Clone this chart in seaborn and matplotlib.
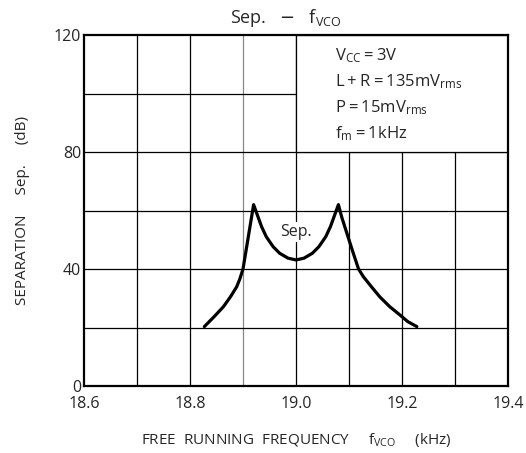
import matplotlib
matplotlib.use('Agg')
import matplotlib.pyplot as plt
import seaborn as sns
import pandas as pd
from matplotlib.patches import Rectangle

# data
freq_khz = [18.827, 18.845, 18.863, 18.876, 18.888, 18.894, 18.900, 18.905, 18.910,
            18.915, 18.920, 18.926, 18.935, 18.944, 18.957, 18.969, 18.985, 19.000,
            19.015, 19.031, 19.043, 19.056, 19.065, 19.074, 19.080, 19.086, 19.096,
            19.107, 19.118, 19.127, 19.142, 19.158, 19.177, 19.196, 19.211, 19.228]
sep_db = [20.3, 23.6, 27.1, 30.4, 33.9, 36.6, 40.0, 45.5, 51.0,
          56.5, 62.0, 59.0, 54.5, 51.0, 47.6, 45.4, 43.7, 43.1,
          43.7, 45.4, 47.6, 51.0, 54.5, 59.0, 62.0, 57.9, 52.2,
          46.0, 40.0, 37.4, 34.0, 30.5, 27.1, 24.3, 22.0, 20.3]
x_ticks = [18.6, 18.8, 19.0, 19.2, 19.4]
y_ticks = [0, 40, 80, 120]
conditions = [r'$\mathregular{V_{CC} = 3V}$',
              r'$\mathregular{L + R = 135mV_{rms}}$',
              r'$\mathregular{P = 15mV_{rms}}$',
              r'$\mathregular{f_{m} = 1kHz}$']

df = pd.DataFrame({'freq': freq_khz, 'sep': sep_db})

sns.set_style('white')
plt.rcParams['font.family'] = ['Open Sans', 'DejaVu Sans']

fig = plt.figure(figsize=(5.26, 4.53), dpi=100)
ax = fig.add_axes([0.1597, 0.1479, 0.8061, 0.7748])

# grid
for gx in [18.7, 18.8, 18.9, 19.0, 19.1, 19.2, 19.3]:
    ax.axvline(gx, color='#888888' if abs(gx - 18.9) < 1e-6 else 'black', lw=0.9, zorder=1)
for gy in [20, 40, 60, 80, 100]:
    ax.axhline(gy, color='black', lw=0.9, zorder=1)

# white box for the conditions
ax.add_patch(Rectangle((19.0, 80), 0.4, 40, facecolor='white', edgecolor='black', lw=0.9, zorder=2))

sns.lineplot(data=df, x='freq', y='sep', color='black', lw=2.3, ax=ax, zorder=4, sort=False)

ax.text(19.0, 52.6, 'Sep.', ha='center', va='center', fontsize=11.5,
        bbox=dict(facecolor='white', edgecolor='none', pad=1.5), zorder=3)

for i, t in enumerate(conditions):
    ax.text(19.074, 113 - i * 8.9, t, ha='left', va='center', fontsize=12, zorder=5)

ax.set_xlim(18.6, 19.4)
ax.set_ylim(0, 120)
ax.set_xticks(x_ticks)
ax.set_xticklabels(['%.1f' % v for v in x_ticks])
ax.set_yticks(y_ticks)
ax.tick_params(axis='both', length=0, labelsize=11.5)
ax.tick_params(axis='x', pad=7)
ax.tick_params(axis='y', pad=2)
for s in ax.spines.values():
    s.set_linewidth(1.6)
    s.set_color('black')
    s.set_zorder(6)

ax.set_title(r'Sep.   $-$   $\mathregular{f_{VCO}}$', fontsize=13, pad=9, x=0.475)
ax.set_xlabel(r'FREE  RUNNING  FREQUENCY     $\mathregular{f_{VCO}}$     (kHz)', fontsize=11, labelpad=14)
ax.set_ylabel('SEPARATION     Sep.     (dB)', fontsize=11, labelpad=17)

fig.savefig('out.png', dpi=100)
